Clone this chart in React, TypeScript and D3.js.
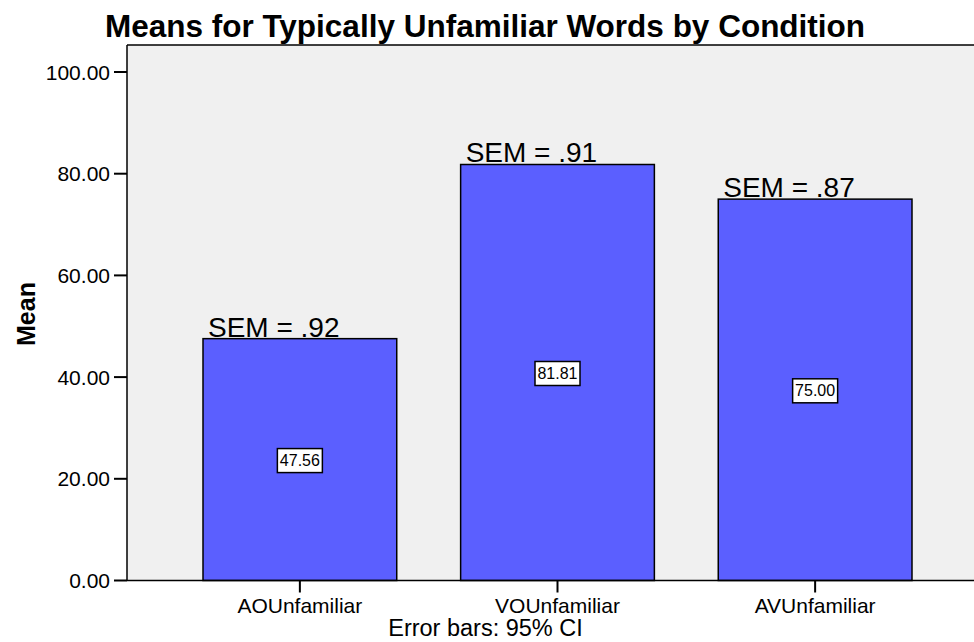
import React, { useEffect } from "react";
import * as d3 from "d3";

const categories = ["AOUnfamiliar", "VOUnfamiliar", "AVUnfamiliar"];
const means = [47.56, 81.81, 75.0];
const semLabels = ["SEM = .92", "SEM = .91", "SEM = .87"];
const yTicks = [0, 20, 40, 60, 80, 100];

const W = 974;
const H = 642;
const left = 127;
const right = 988;
const top = 45;
const bottom = 580.5;

export default function App() {
  useEffect(() => {
    document.body.style.margin = "0";
  }, []);

  const x = d3
    .scaleBand<string>()
    .domain(categories)
    .range([left, right])
    .paddingInner(0.248)
    .paddingOuter(0.295);
  const y = d3.scaleLinear().domain([0, 100]).range([bottom, 72]);
  const bw = x.bandwidth();
  const font = "Liberation Sans, Arial, sans-serif";

  return (
    <svg width={W} height={H} style={{ display: "block", fontFamily: font }}>
      <rect x={0} y={0} width={W} height={H} fill="#ffffff" />
      <rect x={left} y={top} width={right - left} height={bottom - top} fill="#f0f0f0" />
      <line x1={left} x2={right} y1={top} y2={top} stroke="#000" strokeWidth={1.5} />
      <line x1={left} x2={left} y1={top} y2={bottom} stroke="#000" strokeWidth={1.5} />
      {categories.map((c, i) => {
        const bx = x(c)!;
        const by = y(means[i]);
        const cx = bx + bw / 2;
        const my = (by + bottom) / 2;
        return (
          <g key={c}>
            <rect x={bx} y={by} width={bw} height={bottom - by} fill="#5b5fff" stroke="#000" strokeWidth={1.5} />
            <text x={bx + 5} y={by - 2} fontSize={28} fill="#000">
              {semLabels[i]}
            </text>
            <rect x={cx - 22.5} y={my - 11} width={45} height={24} fill="#fff" stroke="#000" strokeWidth={1.5} />
            <text x={cx} y={my + 6.5} fontSize={16} textAnchor="middle" fill="#000">
              {means[i].toFixed(2)}
            </text>
            <line x1={cx} x2={cx} y1={bottom} y2={bottom + 12} stroke="#000" strokeWidth={2} />
            <text x={cx} y={613} fontSize={21} textAnchor="middle" fill="#000">
              {c}
            </text>
          </g>
        );
      })}
      <line x1={left} x2={right} y1={bottom} y2={bottom} stroke="#000" strokeWidth={1.5} />
      {yTicks.map((t) => (
        <g key={t}>
          <line x1={left - 13} x2={left} y1={y(t)} y2={y(t)} stroke="#000" strokeWidth={2} />
          <text x={left - 17} y={y(t) + 7.5} fontSize={21} textAnchor="end" fill="#000">
            {t.toFixed(2)}
          </text>
        </g>
      ))}
      <text x={485} y={37} fontSize={31.5} fontWeight="bold" textAnchor="middle" fill="#000">
        Means for Typically Unfamiliar Words by Condition
      </text>
      <text transform={`translate(35,${314}) rotate(-90)`} fontSize={25} fontWeight="bold" textAnchor="middle" fill="#000">
        Mean
      </text>
      <text x={485.5} y={636} fontSize={23.5} textAnchor="middle" fill="#000">
        Error bars: 95% CI
      </text>
    </svg>
  );
}
